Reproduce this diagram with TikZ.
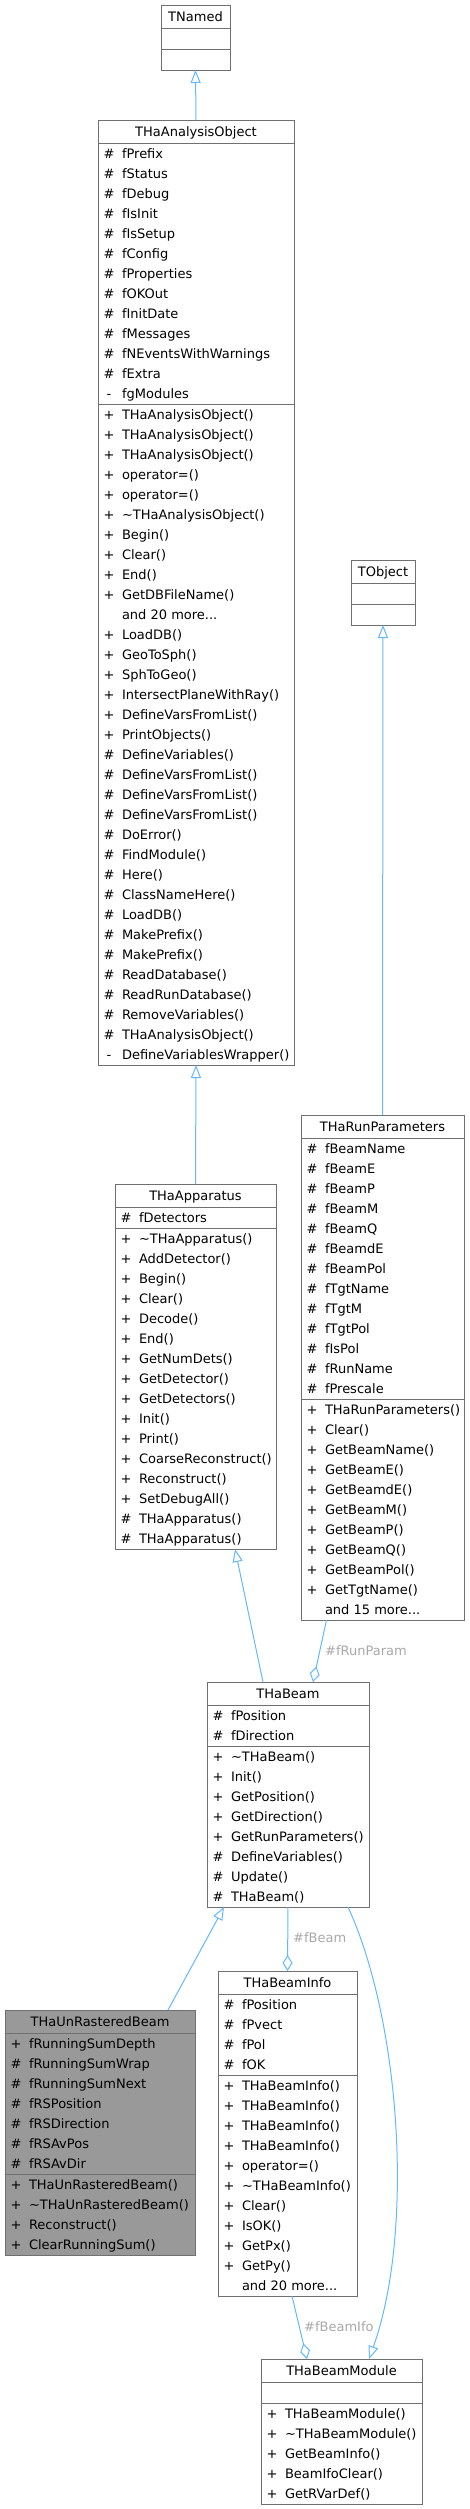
\documentclass[tikz,border=0pt]{standalone}
\usepackage{fontspec}
\setmainfont{DejaVu Sans}
\usetikzlibrary{arrows.meta}
\definecolor{edgecol}{HTML}{63B8FF}
\definecolor{boxcol}{HTML}{707070}
\definecolor{labcol}{HTML}{A8A8A8}
\definecolor{hifill}{HTML}{999999}
\newcommand\tdots{.{}.{}.}
\newcommand\tildech{\textasciitilde}
\def\classfill{white}
\tikzset{
  boxline/.style={draw=boxcol, line width=1pt},
  txt/.style={font=\fontsize{13}{15}\selectfont, inner sep=0pt, outer sep=0pt, text=black},
  lab/.style={font=\fontsize{13}{15}\selectfont, inner sep=0pt, text=labcol},
  inh/.style={draw=edgecol, line width=1pt, -{Triangle[length=13pt,width=10pt,fill=white]}},
  agg/.style={draw=edgecol, line width=1pt, -{Diamond[length=16pt,width=10pt,fill=white]}}
}
% #1 id, #2 left, #3 top, #4 right, #5 title, #6 nattr, #7 attrs, #8 nmeth, #9 methods
\newcommand\umlbox[9]{%
  \pgfmathsetmacro\umlA{ifthenelse(#6==0,21,#6*20+1)}%
  \pgfmathsetmacro\umlM{ifthenelse(#8==0,21,#8*20+1)}%
  \pgfmathsetmacro\umlH{23+\umlA+\umlM}%
  \pgfmathsetmacro\umlW{#4-#2}%
  \pgfmathsetmacro\umlS{#3+23}%
  \pgfmathsetmacro\umlT{#3+23+\umlA}%
  \node[boxline, fill=\classfill, minimum width=\umlW pt, minimum height=\umlH pt,
        inner sep=0pt, outer sep=0pt, anchor=north west] (#1) at (#2,-#3) {};
  \draw[boxline] (#2,-\umlS) -- (#4,-\umlS);
  \draw[boxline] (#2,-\umlT) -- (#4,-\umlT);
  \node[txt, anchor=base] (#1-t) at ({(#2+#4)/2},{-(#3+16.5)}) {#5};
  \ifnum#6>0
  \foreach \sgn/\nam [count=\i] in {#7} {
    \pgfmathsetmacro\yy{\umlS+15+(\i-1)*20}
    \node[txt, anchor=base] (#1-as\i) at (#2+11,-\yy) {\sgn};
    \node[txt, anchor=base west] (#1-an\i) at (#2+24,-\yy) {\nam};
  }
  \fi
  \ifnum#8>0
  \foreach \sgn/\nam [count=\i] in {#9} {
    \pgfmathsetmacro\yy{\umlT+15+(\i-1)*20}
    \node[txt, anchor=base] (#1-ms\i) at (#2+11,-\yy) {\sgn};
    \node[txt, anchor=base west] (#1-mn\i) at (#2+24,-\yy) {\nam};
  }
  \fi
}
\begin{document}
\begin{tikzpicture}[x=1pt,y=1pt]
\useasboundingbox (0,0) rectangle (470,-2509);

\umlbox{tnamed}{161}{5}{230}{TNamed}{0}{}{0}{}

\umlbox{ao}{98}{120}{294}{THaAnalysisObject}{13}{\#/fPrefix, \#/fStatus, \#/fDebug, \#/fIsInit, \#/fIsSetup, \#/fConfig, \#/fProperties, \#/fOKOut, \#/fInitDate, \#/fMessages, \#/fNEventsWithWarnings, \#/fExtra, -/fgModules}{33}{+/THaAnalysisObject(), +/THaAnalysisObject(), +/THaAnalysisObject(), +/operator=(), +/operator=(), +/\tildech THaAnalysisObject(), +/Begin(), +/Clear(), +/End(), +/GetDBFileName(), {}/and 20 more\tdots, +/LoadDB(), +/GeoToSph(), +/SphToGeo(), +/IntersectPlaneWithRay(), +/DefineVarsFromList(), +/PrintObjects(), \#/DefineVariables(), \#/DefineVarsFromList(), \#/DefineVarsFromList(), \#/DefineVarsFromList(), \#/DoError(), \#/FindModule(), \#/Here(), \#/ClassNameHere(), \#/LoadDB(), \#/MakePrefix(), \#/MakePrefix(), \#/ReadDatabase(), \#/ReadRunDatabase(), \#/RemoveVariables(), \#/THaAnalysisObject(), -/DefineVariablesWrapper()}

\umlbox{tobject}{351}{560}{415}{TObject}{0}{}{0}{}

\umlbox{app}{115}{1184}{276}{THaApparatus}{1}{\#/fDetectors}{16}{+/\tildech THaApparatus(), +/AddDetector(), +/Begin(), +/Clear(), +/Decode(), +/End(), +/GetNumDets(), +/GetDetector(), +/GetDetectors(), +/Init(), +/Print(), +/CoarseReconstruct(), +/Reconstruct(), +/SetDebugAll(), \#/THaApparatus(), \#/THaApparatus()}

\umlbox{runpar}{301}{1115}{464}{THaRunParameters}{13}{\#/fBeamName, \#/fBeamE, \#/fBeamP, \#/fBeamM, \#/fBeamQ, \#/fBeamdE, \#/fBeamPol, \#/fTgtName, \#/fTgtM, \#/fTgtPol, \#/fIsPol, \#/fRunName, \#/fPrescale}{11}{+/THaRunParameters(), +/Clear(), +/GetBeamName(), +/GetBeamE(), +/GetBeamdE(), +/GetBeamM(), +/GetBeamP(), +/GetBeamQ(), +/GetBeamPol(), +/GetTgtName(), {}/and 15 more\tdots}

\umlbox{beam}{207}{1682}{369}{THaBeam}{2}{\#/fPosition, \#/fDirection}{8}{+/\tildech THaBeam(), +/Init(), +/GetPosition(), +/GetDirection(), +/GetRunParameters(), \#/DefineVariables(), \#/Update(), \#/THaBeam()}

\def\classfill{hifill}
\umlbox{unr}{5}{2010}{195}{THaUnRasteredBeam}{7}{+/fRunningSumDepth, \#/fRunningSumWrap, \#/fRunningSumNext, \#/fRSPosition, \#/fRSDirection, \#/fRSAvPos, \#/fRSAvDir}{4}{+/THaUnRasteredBeam(), +/\tildech THaUnRasteredBeam(), +/Reconstruct(), +/ClearRunningSum()}
\def\classfill{white}

\umlbox{binfo}{218}{1971}{357}{THaBeamInfo}{4}{\#/fPosition, \#/fPvect, \#/fPol, \#/fOK}{11}{+/THaBeamInfo(), +/THaBeamInfo(), +/THaBeamInfo(), +/THaBeamInfo(), +/operator=(), +/\tildech THaBeamInfo(), +/Clear(), +/IsOK(), +/GetPx(), +/GetPy(), {}/and 20 more\tdots}

\umlbox{bmod}{261}{2359}{422}{THaBeamModule}{0}{}{5}{+/THaBeamModule(), +/\tildech THaBeamModule(), +/GetBeamInfo(), +/BeamIfoClear(), +/GetRVarDef()}

% connectors
\draw[inh] (ao.north) -- (tnamed.south);
\draw[inh] (app.north) -- (ao.south);
\draw[inh] (runpar.north) -- (tobject.south);
\draw[inh] ([xshift=-25pt]beam.north) -- ([xshift=39.5pt]app.south);
\draw[agg] ([xshift=-56pt]runpar.south) -- ([xshift=25pt]beam.north);
\node[lab, anchor=west] (lrun) at (325,-1651) {\#fRunParam};
\draw[agg] (beam.south) -- (binfo.north);
\node[lab, anchor=west] (lbeam) at (293,-1938) {\#fBeam};
\draw[inh] ([xshift=68pt]unr.north) -- ([xshift=-64pt]beam.south);
\draw[agg] ([xshift=4.5pt]binfo.south) -- ([xshift=-34.5pt]bmod.north);
\node[lab, anchor=west] (lbifo) at (304,-2327) {\#fBeamIfo};
\draw[inh] ([xshift=60pt]beam.south) .. controls (400,-2020) and (415,-2230) .. ([xshift=27.5pt]bmod.north);
\end{tikzpicture}
\end{document}
